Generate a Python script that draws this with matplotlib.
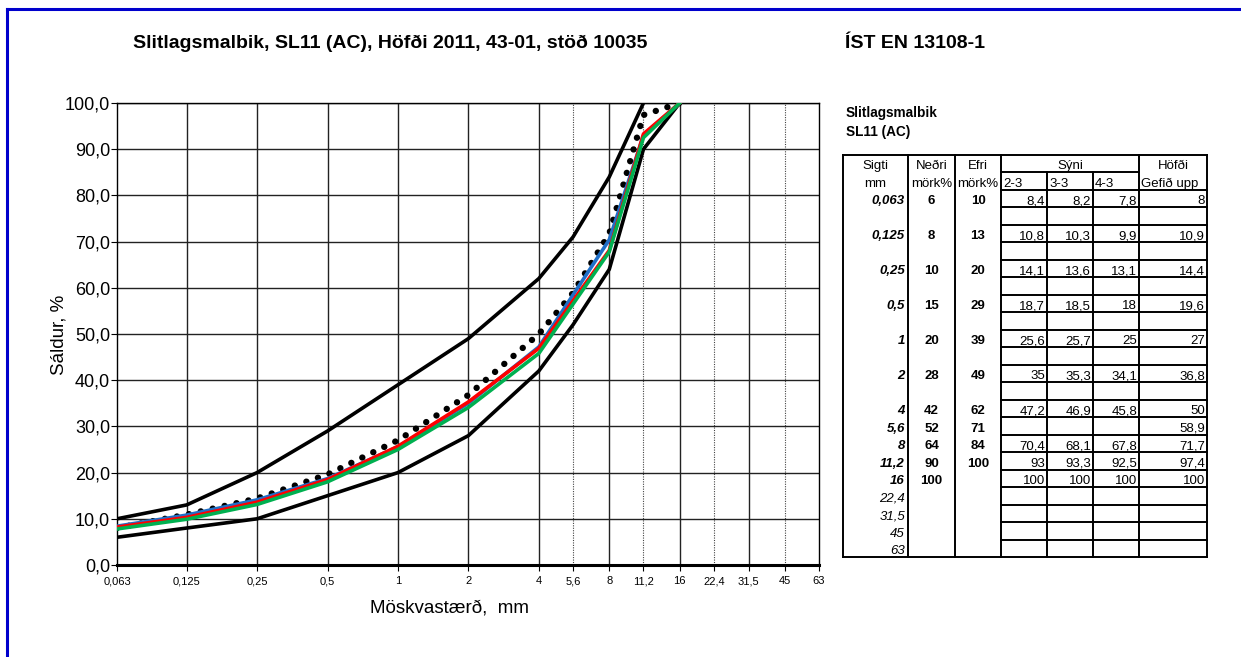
import numpy as np
import matplotlib
matplotlib.use("Agg")
import matplotlib.pyplot as plt
from matplotlib.ticker import FixedLocator, NullLocator

plt.rcParams['font.family'] = ['Liberation Sans', 'DejaVu Sans']

# sieve sizes (mm) and passing percentages
sieves = [0.063, 0.125, 0.25, 0.5, 1, 2, 4, 5.6, 8, 11.2, 16]
extra_sieves = [22.4, 31.5, 45, 63]
lower = [6, 8, 10, 15, 20, 28, 42, 52, 64, 90, 100]
upper = [10, 13, 20, 29, 39, 49, 62, 71, 84, 100, None]
s23 = [8.4, 10.8, 14.1, 18.7, 25.6, 35, 47.2, None, 70.4, 93, 100]
s33 = [8.2, 10.3, 13.6, 18.5, 25.7, 35.3, 46.9, None, 68.1, 93.3, 100]
s43 = [7.8, 9.9, 13.1, 18, 25, 34.1, 45.8, None, 67.8, 92.5, 100]
hofdi = [8, 10.9, 14.4, 19.6, 27, 36.8, 50, 58.9, 71.7, 97.4, 100]

xticks = sieves + extra_sieves
dotted_grid = [5.6, 11.2, 22.4, 45]

title = 'Slitlagsmalbik, SL11 (AC), Höfði 2011, 43-01, stöð 10035'
standard = 'ÍST EN 13108-1'


def fmt(v):
    return f'{v:g}'.replace('.', ',')


def valid(xs, ys):
    pts = [(x, y) for x, y in zip(xs, ys) if y is not None]
    return [p[0] for p in pts], [p[1] for p in pts]


W, H = 1241, 657
fig = plt.figure(figsize=(W / 100, H / 100), dpi=100)

ax = fig.add_axes([117 / W, 1 - 565 / H, 702 / W, 462 / H])
ax.set_xscale('log')
ax.set_xlim(0.063, 63)
ax.set_ylim(0, 100)

for x in xticks:
    if x in dotted_grid:
        ax.axvline(x, color='#444444', lw=0.8, ls=(0, (1, 1.2)), zorder=1)
    elif x not in (0.063, 63):
        ax.axvline(x, color='#222222', lw=1.0, zorder=1)
for y in range(10, 101, 10):
    ax.axhline(y, color='#222222', lw=1.0, zorder=1)

ax.plot(*valid(sieves, lower), color='black', lw=2.6, zorder=3)
ax.plot(*valid(sieves, upper), color='black', lw=2.6, zorder=3)
ax.plot(*valid(sieves, hofdi), color='black', lw=4.6, ls=(0, (0.01, 1.9)),
        dash_capstyle='round', zorder=4)
ax.plot(*valid(sieves, s23), color='#1f6fc8', lw=2.6, zorder=5)
ax.plot(*valid(sieves, s33), color='#ff0000', lw=2.6, zorder=6)
ax.plot(*valid(sieves, s43), color='#00b050', lw=2.6, zorder=7)

ax.xaxis.set_major_locator(FixedLocator(xticks))
ax.xaxis.set_minor_locator(NullLocator())
ax.set_xticklabels([fmt(v) for v in xticks], fontsize=8)
ax.set_yticks(range(0, 101, 10))
ax.set_yticklabels([f'{v},0' for v in range(0, 101, 10)], fontsize=13)
ax.tick_params(axis='x', length=4, width=0.8, pad=4)
ax.tick_params(axis='y', length=4, width=0.8, pad=1)
for side in ('top', 'left', 'right'):
    ax.spines[side].set_linewidth(1.0)
ax.spines['bottom'].set_linewidth(2.2)
ax.set_xlabel('Möskvastærð,  mm', fontsize=13.5)
ax.set_ylabel('Sáldur, %', fontsize=13.5)
ax.xaxis.set_label_coords(0.474, -0.075)
ax.yaxis.set_label_coords(-0.07, 0.498)

# overlay in pixel coordinates for titles, frame and table
ov = fig.add_axes([0, 0, 1, 1], facecolor='none')
ov.set_xlim(0, W)
ov.set_ylim(H, 0)
ov.axis('off')

ov.plot([7, W], [9, 9], color='#0000cc', lw=2.2)
ov.plot([7, 7], [9, H], color='#0000cc', lw=2.2)

ov.text(390, 43, title, fontsize=14, fontweight='bold', ha='center', va='center')
ov.text(845, 43, standard, fontsize=14, fontweight='bold', ha='left', va='center')
ov.text(846, 113, 'Slitlagsmalbik', fontsize=9.8, fontweight='bold', va='center')
ov.text(846, 132, 'SL11 (AC)', fontsize=9.8, fontweight='bold', va='center')

cols = [843, 908, 955, 1001, 1047, 1093, 1139, 1207]
top, rh = 155, 17.48

# table row layout: sieves up to 2 mm are followed by a blank row
rows = []
for i, s in enumerate(xticks):
    rows.append(i)
    if s < 4:
        rows.append(None)
nrows = 2 + len(rows)
bottom = top + nrows * rh

lw_t = 1.4
ov.plot([cols[0], cols[-1]], [top, top], color='black', lw=lw_t)
ov.plot([cols[0], cols[-1]], [bottom, bottom], color='black', lw=lw_t)
for x in (cols[0], cols[1], cols[2], cols[3], cols[6], cols[7]):
    ov.plot([x, x], [top, bottom], color='black', lw=lw_t)
for x in (cols[4], cols[5]):
    ov.plot([x, x], [top + rh, bottom], color='black', lw=lw_t)
ov.plot([cols[3], cols[6]], [top + rh, top + rh], color='black', lw=lw_t)
for r in range(2, nrows):
    y = top + r * rh
    ov.plot([cols[3], cols[7]], [y, y], color='black', lw=lw_t)

fs = 9.5


def cell_y(r):
    return top + (r + 1) * rh - 3


def center(c):
    return (cols[c] + cols[c + 1]) / 2


ov.text(center(0), cell_y(0), 'Sigti', fontsize=fs, ha='center', va='baseline')
ov.text(center(0), cell_y(1), 'mm', fontsize=fs, ha='center', va='baseline')
ov.text(center(1), cell_y(0), 'Neðri', fontsize=fs, ha='center', va='baseline')
ov.text(center(1), cell_y(1), 'mörk%', fontsize=fs, ha='center', va='baseline')
ov.text(center(2), cell_y(0), 'Efri', fontsize=fs, ha='center', va='baseline')
ov.text(center(2), cell_y(1), 'mörk%', fontsize=fs, ha='center', va='baseline')
ov.text((cols[3] + cols[6]) / 2, cell_y(0), 'Sýni', fontsize=fs, ha='center', va='baseline')
for c, lab in zip((3, 4, 5), ('2-3', '3-3', '4-3')):
    ov.text(cols[c] + 2, cell_y(1), lab, fontsize=fs, ha='left', va='baseline')
ov.text(center(6), cell_y(0), 'Höfði', fontsize=fs, ha='center', va='baseline')
ov.text(cols[6] + 2, cell_y(1), 'Gefið upp', fontsize=fs, ha='left', va='baseline')

for r, idx in enumerate(rows):
    if idx is None:
        continue
    y = cell_y(r + 2)
    s = xticks[idx]
    main = idx < len(sieves)
    ov.text(cols[1] - 3, y, fmt(s), fontsize=fs, ha='right', va='baseline',
            style='italic', fontweight='bold' if main else 'normal')
    if not main:
        continue
    ov.text(center(1), y, fmt(lower[idx]), fontsize=fs, ha='center',
            va='baseline', fontweight='bold')
    if upper[idx] is not None:
        ov.text(center(2), y, fmt(upper[idx]), fontsize=fs, ha='center',
                va='baseline', fontweight='bold')
    for c, series in zip((3, 4, 5, 6), (s23, s33, s43, hofdi)):
        if series[idx] is not None:
            ov.text(cols[c + 1] - 2, y, fmt(series[idx]), fontsize=fs,
                    ha='right', va='baseline')

fig.savefig('out.png', dpi=100)
